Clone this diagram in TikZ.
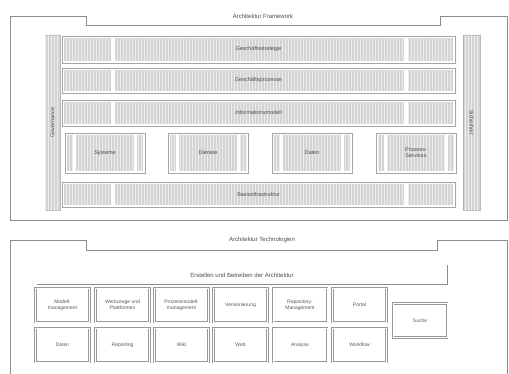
\documentclass[tikz,border=0pt]{standalone}
\usepackage{fontspec}
\setmainfont{Liberation Sans}
\usetikzlibrary{patterns}
\begin{document}
\begin{tikzpicture}[x=1pt,y=-1pt,
  frameline/.style={draw=black!45, line width=0.7pt},
  lbl/.style={font=\fontsize{5.5}{6.2}\selectfont, text=black!70, align=center, inner sep=0pt},
  ttl/.style={font=\fontsize{6}{7}\selectfont, text=black!70, inner sep=0pt},
  rowbox/.style={draw=black!35, line width=0.5pt, fill=white, inner sep=0pt},
  seg/.style={fill=black!17},
  hatch/.style={pattern=vertical lines, pattern color=black!8},
  sidebar/.style={draw=black!30, fill=black!17, line width=0.4pt, inner sep=0pt},
  techbox/.style={draw=black!40, line width=0.9pt, fill=white, inner sep=0pt, align=center,
     font=\fontsize{5}{6}\selectfont, text=black!65, minimum width=54, minimum height=34,
     double=white, double distance=0.6pt}
]
\useasboundingbox (0,0) rectangle (509,374);
\fill[white] (0,0) rectangle (509,374);

% ---------- upper panel frame ----------
\draw[frameline] (10,220) -- (10,16) -- (86,16) -- (86,25) -- (440,25) -- (440,16) -- (507,16) -- (507,220) -- cycle;
\node[ttl] (t1) at (263,16) {Architektur Framework};

% side bars
\node[sidebar, minimum width=15, minimum height=175] (gov) at (52.5,122.5) {};
\fill[hatch] (gov.north west) rectangle (gov.south east);
\node[lbl, rotate=90] (govt) at (gov.center) {Governance};
\node[sidebar, minimum width=17, minimum height=175] (sec) at (471.5,122.5) {};
\fill[hatch] (sec.north west) rectangle (sec.south east);
\node[lbl, rotate=270] (sect) at (sec.center) {Sicherheit};

% layered rows
\foreach \n/\ya/\yb/\t in {r1/36/63/Geschäftsstrategie, r2/68/93/Geschäftsprozesse, r3/100/126/Informationsmodell, r5/182/207/Basisinfrastruktur}{
  \node[rowbox, minimum width=393, minimum height={\yb-\ya}] (\n) at (258.5,{(\ya+\yb)/2}) {};
  \fill[seg] (64,\ya+2) rectangle (111,\yb-2);
  \fill[seg] (115,\ya+2) rectangle (404,\yb-2);
  \fill[seg] (408,\ya+2) rectangle (453,\yb-2);
  \fill[hatch] (64,\ya+2) rectangle (111,\yb-2);
  \fill[hatch] (115,\ya+2) rectangle (404,\yb-2);
  \fill[hatch] (408,\ya+2) rectangle (453,\yb-2);
  \node[lbl] (\n t) at (\n.center) {\t};
}

% four component boxes
\foreach \n/\xa/\t in {b1/65/Systeme, b2/168/Dienste, b3/272/Daten, b4/376/Prozess-\\Services}{
  \node[rowbox, minimum width=80, minimum height=40] (\n) at ({\xa+40},153) {};
  \fill[seg] (\xa+2,135) rectangle (\xa+8,171);
  \fill[seg] (\xa+11,135) rectangle (\xa+69,171);
  \fill[seg] (\xa+72,135) rectangle (\xa+78,171);
  \fill[hatch] (\xa+2,135) rectangle (\xa+8,171);
  \fill[hatch] (\xa+11,135) rectangle (\xa+69,171);
  \fill[hatch] (\xa+72,135) rectangle (\xa+78,171);
  \node[lbl] (\n t) at (\n.center) {\t};
}

% ---------- lower panel frame ----------
\draw[frameline] (10,376) -- (10,240) -- (86,240) -- (86,250) -- (437,250) -- (437,240) -- (507,240) -- (507,376);
\node[ttl] (t2) at (262,240) {Architektur Technologien};

% bracket heading
\coordinate (bl) at (37,284);
\coordinate (br) at (447,284);
\coordinate (bt) at (447,265);
\draw[draw=black!45, line width=0.7pt] (bl) -- (br) -- (bt);
\node[ttl] (sub) at (242,275) {Erstellen und Betreiben der Architektur};

% technology boxes
\foreach \n/\x/\t in {a1/62.5/Modell-\\management, a2/122.5/Werkzeuge und\\Plattformen, a3/181.5/Prozessmodell-\\management, a4/240.5/Versionierung, a5/300/Repository-\\Management, a6/359.5/Portal}{
  \node[techbox] (\n) at (\x,305) {\t};
}
\foreach \n/\x/\t in {c1/62.5/Daten, c2/122.5/Reporting, c3/181.5/Wiki, c4/240.5/Web, c5/300/Analyse, c6/359.5/Workflow}{
  \node[techbox] (\n) at (\x,345) {\t};
}
\node[techbox] (s1) at (420,320.5) {Suche};
\end{tikzpicture}
\end{document}
